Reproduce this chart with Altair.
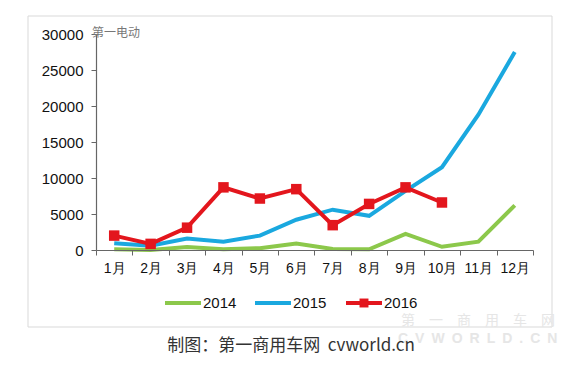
import altair as alt
import pandas as pd

months = ["1月", "2月", "3月", "4月", "5月", "6月", "7月", "8月", "9月", "10月", "11月", "12月"]
y2014 = [100, 0, 400, 100, 250, 900, 150, 100, 2250, 450, 1150, 6200]
y2015 = [950, 600, 1600, 1150, 2000, 4200, 5600, 4750, 8200, 11500, 18800, 27500]
y2016 = [2000, 850, 3100, 8700, 7150, 8450, 3450, 6400, 8700, 6600]
years = ["2014", "2015", "2016"]
colors = ["#8CC84B", "#1AA8DF", "#E3161D"]
y_ticks = [0, 5000, 10000, 15000, 20000, 25000, 30000]
caption = "制图：第一商用车网\u00a0\u00a0cvworld.cn"
watermark_top = "第一电动"
watermark_cn = "\u3000".join(list("第一商用车网"))
watermark_en = "\u2002".join(list("CVWORLD.CN"))

rows = []
for m, v in zip(months, y2014):
    rows.append({"month": m, "value": v, "year": "2014"})
for m, v in zip(months, y2015):
    rows.append({"month": m, "value": v, "year": "2015"})
for m, v in zip(months[:len(y2016)], y2016):
    rows.append({"month": m, "value": v, "year": "2016"})
df = pd.DataFrame(rows)

W, H = 437, 216
FONT = "Liberation Sans"

xenc = alt.X("month:N", sort=months, scale=alt.Scale(type="band", domain=months, paddingInner=0, paddingOuter=0),
             bandPosition=0.5,
             axis=alt.Axis(title=None, tickBand="extent", labelAngle=0, labelFont=FONT, labelFontSize=14,
                           labelColor="#111", domainColor="#666", tickColor="#666", tickSize=5,
                           labelPadding=6, domainWidth=1.2, labelOverlap=False, zindex=1))
yenc = alt.Y("value:Q", scale=alt.Scale(domain=[0, 30000], nice=False),
             axis=alt.Axis(title=None, values=y_ticks, format="d", grid=False, labelFont=FONT, labelFontSize=15,
                           labelColor="#111", domainColor="#666", tickColor="#666", tickSize=5,
                           labelPadding=8, domainWidth=1.2, labelOverlap=False, zindex=0))
cenc = alt.Color("year:N", scale=alt.Scale(domain=years, range=colors), legend=None)

frame = alt.Chart(pd.DataFrame({"a": [0]})).mark_rect(fillOpacity=0, stroke="#d9d9d9", strokeWidth=1).encode(
    x=alt.value(-68), x2=alt.value(456), y=alt.value(-18), y2=alt.value(293))

lines = alt.Chart(df).mark_line(strokeWidth=4).encode(x=xenc, y=yenc, color=cenc, detail="year:N")
pts = alt.Chart(df[df.year == "2016"]).mark_point(shape="square", filled=True, size=110, opacity=1).encode(
    x=xenc, y=yenc, color=alt.value(colors[2]))

# legend
leg_x = [69, 159, 250]
leg = []
for i, yr in enumerate(years):
    d = pd.DataFrame({"year": [yr]})
    leg.append(alt.Chart(d).mark_rule(strokeWidth=4, color=colors[i]).encode(
        x=alt.value(leg_x[i]), x2=alt.value(leg_x[i] + 36), y=alt.value(269)))
    leg.append(alt.Chart(d).mark_text(align="left", baseline="middle", font=FONT, fontSize=15, color="#111").encode(
        x=alt.value(leg_x[i] + 38), y=alt.value(269), text="year:N"))
leg.append(alt.Chart(pd.DataFrame({"a": [0]})).mark_point(shape="square", filled=True, size=80, opacity=1,
                                                        color=colors[2]).encode(
    x=alt.value(leg_x[2] + 18), y=alt.value(269)))

cap = alt.Chart(pd.DataFrame({"t": [caption]})).mark_text(
    align="center", baseline="middle", font="Noto Sans CJK SC", fontSize=17, color="#333").encode(
    x=alt.value(195), y=alt.value(312), text="t:N")

wm1 = alt.Chart(pd.DataFrame({"t": [watermark_top]})).mark_text(
    align="left", baseline="middle", font="Noto Sans CJK SC", fontSize=12, color="#777").encode(
    x=alt.value(-4), y=alt.value(-1), text="t:N")

wm2 = alt.Chart(pd.DataFrame({"t": [watermark_cn]})).mark_text(
    align="left", baseline="middle", font="Noto Sans CJK SC", fontSize=14, color="#e6e6e6").encode(
    x=alt.value(305), y=alt.value(287), text="t:N")
wm3 = alt.Chart(pd.DataFrame({"t": [watermark_en]})).mark_text(
    align="left", baseline="middle", font=FONT, fontSize=14, fontWeight="bold", color="#e6e6e6").encode(
    x=alt.value(302), y=alt.value(305), text="t:N")

chart = alt.layer(frame, wm2, wm3, lines, pts, *leg, cap, wm1).properties(
    width=W, height=H,
    autosize=alt.AutoSizeParams(type="none"),
    padding={"left": 88, "top": 26, "right": 40, "bottom": 105},
    background="white",
).configure_view(stroke=None)

chart.save("out.html", embed_options={"renderer": "svg", "actions": False})
